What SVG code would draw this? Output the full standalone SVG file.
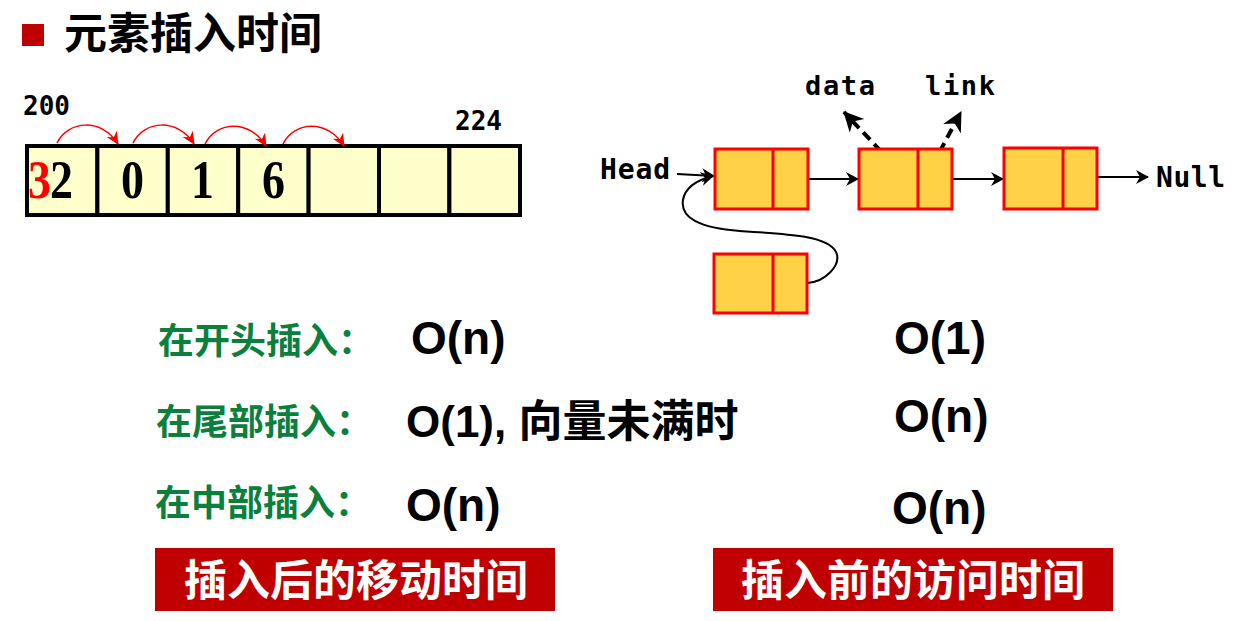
<svg xmlns="http://www.w3.org/2000/svg" width="1239" height="621" viewBox="0 0 1239 621">
<style>
.cjk{font-family:"Noto Sans CJK SC","Liberation Sans",sans-serif;font-weight:bold}
.mono{font-family:"DejaVu Sans Mono","Liberation Mono",monospace;font-weight:bold;fill:#000}
.big{font-family:"Liberation Sans","Noto Sans CJK SC",sans-serif;font-weight:bold;font-size:46px;fill:#000}
.green{fill:#0B803C;font-size:36px}
.cell{fill:#FFFFCC;stroke:#000;stroke-width:4}
.node{fill:#FFD147;stroke:#FF0000;stroke-width:3}
.digit{font-family:"Liberation Serif",serif;font-weight:bold;font-size:46px}
.conn{fill:none;stroke:#000;stroke-width:2}
.dash{fill:none;stroke:#000;stroke-width:4;stroke-dasharray:10,6}
.red{fill:none;stroke:#FF0000;stroke-width:1.5}
.band{fill:#C00000}
.btxt{fill:#fff;font-size:43px}
</style>
<defs>
<marker id="ab" markerWidth="14" markerHeight="14" refX="12" refY="7" orient="auto" markerUnits="userSpaceOnUse">
<path d="M0,0 L13,7 L0,14 L4,7 Z" fill="#000"/>
</marker>
<marker id="abd" markerWidth="22" markerHeight="22" refX="19" refY="10" orient="auto" markerUnits="userSpaceOnUse">
<path d="M0,0 L20,10 L0,20 L6,10 Z" fill="#000"/>
</marker>
<marker id="ar" markerWidth="14" markerHeight="14" refX="12" refY="6" orient="auto" markerUnits="userSpaceOnUse">
<path d="M0,0 L13,6 L0,12 L4,6 Z" fill="#FF0000"/>
</marker>
</defs>

<g id="title">
<rect x="22" y="24" width="22" height="22" fill="#C00000"/>
<text class="cjk" x="64" y="49" font-size="43" fill="#000">元素插入时间</text>
</g>

<g id="array">
<text class="mono" x="23" y="115" font-size="26">200</text>
<text class="mono" x="455" y="130" font-size="26">224</text>
<rect class="cell" x="27" y="146" width="70.4" height="69"/>
<rect class="cell" x="97.4" y="146" width="70.4" height="69"/>
<rect class="cell" x="167.8" y="146" width="70.4" height="69"/>
<rect class="cell" x="238.2" y="146" width="70.4" height="69"/>
<rect class="cell" x="308.6" y="146" width="70.4" height="69"/>
<rect class="cell" x="379" y="146" width="70.4" height="69"/>
<rect class="cell" x="449.4" y="146" width="70.6" height="69"/>
<g transform="translate(0,198) scale(1,1.2)">
<text class="digit" x="28" y="0" fill="#FF0000">3</text>
<text class="digit" x="50" y="0" fill="#000">2</text>
<text class="digit" x="121" y="0" fill="#000">0</text>
<text class="digit" x="191" y="0" fill="#000">1</text>
<text class="digit" x="262" y="0" fill="#000">6</text>
</g>
</g>

<g id="connectors">
<path class="red" d="M57,143 C68,120 102,118 118,144" marker-end="url(#ar)"/>
<path class="red" d="M133,143 C144,120 178,118 194,144" marker-end="url(#ar)"/>
<path class="red" d="M205,144 C216,121 250,119 266,146" marker-end="url(#ar)"/>
<path class="red" d="M283,144 C294,121 328,119 344,146" marker-end="url(#ar)"/>
<path class="conn" d="M677,174 L714,176" marker-end="url(#ab)"/>
<path class="conn" d="M809,179 L858,179" marker-end="url(#ab)"/>
<path class="conn" d="M953,179 L1003,179" marker-end="url(#ab)"/>
<path class="conn" d="M1098,177 L1148,177" marker-end="url(#ab)"/>
<path class="conn" d="M807,283 C825,282 842,265 836,252 C828,236 790,234 740,231 C700,228 680,218 683,200 C685,188 697,180 713,176" marker-end="url(#ab)"/>
<path class="dash" d="M892,163 L844,112" marker-end="url(#abd)"/>
<path class="dash" d="M932,166 L961,112" marker-end="url(#abd)"/>
</g>

<g id="head-label"><text class="mono" x="600" y="179" font-size="28" textLength="70">Head</text></g>
<g id="null-label"><text class="mono" x="1156" y="187" font-size="28" textLength="69">Null</text></g>
<g id="data-label"><text class="mono" x="805" y="95" font-size="27" textLength="70">data</text></g>
<g id="link-label"><text class="mono" x="925" y="95" font-size="27" textLength="70">link</text></g>

<g id="node1">
<rect class="node" x="715" y="149" width="93" height="60"/>
<line x1="773" y1="149" x2="773" y2="209" stroke="#FF0000" stroke-width="3"/>
</g>
<g id="node2">
<rect class="node" x="859" y="149" width="93" height="60"/>
<line x1="918" y1="149" x2="918" y2="209" stroke="#FF0000" stroke-width="3"/>
</g>
<g id="node3">
<rect class="node" x="1004" y="148" width="93" height="61"/>
<line x1="1063" y1="148" x2="1063" y2="209" stroke="#FF0000" stroke-width="3"/>
</g>
<g id="node-new">
<rect class="node" x="714" y="254" width="93" height="59"/>
<line x1="773" y1="254" x2="773" y2="313" stroke="#FF0000" stroke-width="3"/>
</g>

<g id="row1">
<text class="cjk green" x="158" y="354">在开头插入：</text>
<text class="big" x="411" y="354">O(n)</text>
<text class="big" x="894" y="354">O(1)</text>
</g>
<g id="row2">
<text class="cjk green" x="156" y="435">在尾部插入：</text>
<text class="big" x="406" y="437" font-size="44" style="font-size:44px">O(1), 向量未满时</text>
<text class="big" x="894" y="432">O(n)</text>
</g>
<g id="row3">
<text class="cjk green" x="155" y="516">在中部插入：</text>
<text class="big" x="406" y="521">O(n)</text>
<text class="big" x="892" y="524">O(n)</text>
</g>

<g id="band1">
<rect class="band" x="155" y="548" width="400" height="63"/>
<text class="cjk btxt" x="184" y="596">插入后的移动时间</text>
</g>
<g id="band2">
<rect class="band" x="713" y="548" width="400" height="63"/>
<text class="cjk btxt" x="741" y="596">插入前的访问时间</text>
</g>
</svg>
